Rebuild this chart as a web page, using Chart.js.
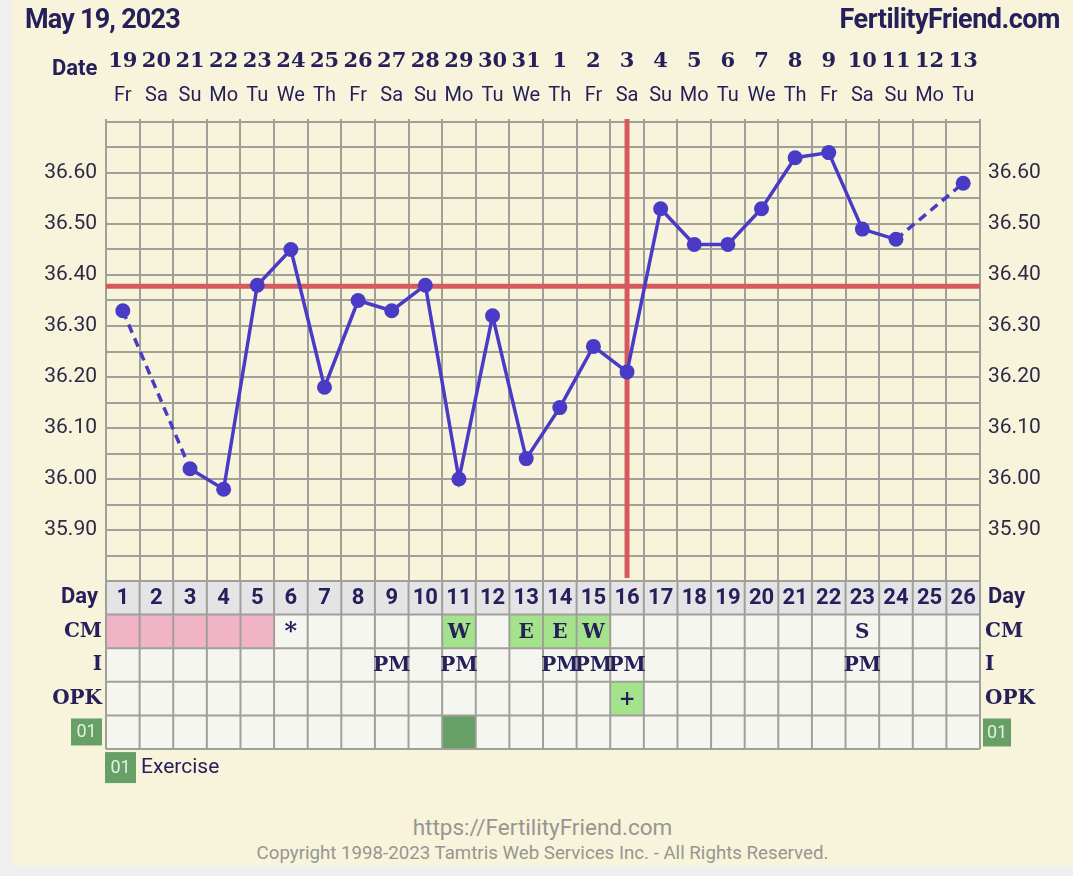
<!DOCTYPE html>
<html><head><meta charset="utf-8">
<script src="https://cdn.jsdelivr.net/npm/chart.js@4"></script>
<style>
html,body{margin:0;padding:0;background:#efefef;width:1073px;height:876px;overflow:hidden;}
#panel{position:absolute;left:12px;top:0;width:1061px;height:866px;background:#f8f4dc;}
#wrap{position:absolute;left:0;top:0;width:1073px;height:790px;}
.t{position:absolute;font-family:Roboto,sans-serif;color:#25205a;white-space:nowrap;}
</style></head><body>
<div id="panel"></div>
<div id="wrap"><canvas id="c" width="1073" height="790" style="width:1073px;height:790px"></canvas></div>
<div class="t" style="left:25px;top:3px;font-size:27px;font-weight:700;letter-spacing:-0.8px;line-height:32px">May 19, 2023</div>
<div class="t" style="right:13px;top:3px;font-size:27px;font-weight:700;letter-spacing:-0.5px;line-height:32px">FertilityFriend.com</div>
<div class="t" style="left:52px;top:55px;font-size:22px;font-weight:700;line-height:26px">Date</div>
<div class="t" style="left:12px;width:1061px;text-align:center;top:814px;font-size:22.5px;line-height:26px;color:#969690">https://FertilityFriend.com</div>
<div class="t" style="left:12px;width:1061px;text-align:center;top:842px;font-size:18.7px;line-height:22px;color:#969690">Copyright 1998-2023 Tamtris Web Services Inc. - All Rights Reserved.</div>
<script>
// ---- data ----
const dates = ['19','20','21','22','23','24','25','26','27','28','29','30','31','1','2','3','4','5','6','7','8','9','10','11','12','13'];
const weekdays = ['Fr','Sa','Su','Mo','Tu','We','Th','Fr','Sa','Su','Mo','Tu','We','Th','Fr','Sa','Su','Mo','Tu','We','Th','Fr','Sa','Su','Mo','Tu'];
const cycleDays = [1,2,3,4,5,6,7,8,9,10,11,12,13,14,15,16,17,18,19,20,21,22,23,24,25,26];
const temps = [36.33,null,36.02,35.98,36.38,36.45,36.18,36.35,36.33,36.38,36.00,36.32,36.04,36.14,36.26,36.21,36.53,36.46,36.46,36.53,36.63,36.64,36.49,36.47,null,36.58];
const coverline = 36.378;
const ovulationDay = 16;
const flow = [1,1,1,1,1,0,0,0,0,0,0,0,0,0,0,0,0,0,0,0,0,0,0,0,0,0];
const cervicalMucus = ['','','','','','*','','','','','W','','E','E','W','','','','','','','','S','','',''];
const intercourse = ['','','','','','','','','PM','','PM','','','PM','PM','PM','','','','','','','PM','','',''];
const opk = ['','','','','','','','','','','','','','','','+','','','','','','','','','',''];
const exercise = [0,0,0,0,0,0,0,0,0,0,1,0,0,0,0,0,0,0,0,0,0,0,0,0,0,0];
const rowLabels = ['Day','CM','I','OPK'];

// ---- styles ----
const NAVY = '#25205a', LINE = '#4a3bc6', RED = '#d65a5c', GRID = '#a09f99';
const SLAB = '"DejaVu Serif", serif';

const overlay = {
  id: 'overlay',
  beforeDatasetsDraw(chart) {
    const {ctx, chartArea: a, scales: {x, y}} = chart;
    ctx.save();
    ctx.strokeStyle = RED; ctx.lineWidth = 5;
    const yc = y.getPixelForValue(coverline);
    ctx.beginPath(); ctx.moveTo(a.left, yc); ctx.lineTo(a.right, yc); ctx.stroke();
    const xo = x.getPixelForValue(ovulationDay - 1);
    ctx.beginPath(); ctx.moveTo(xo, a.top - 3); ctx.lineTo(xo, a.bottom - 3); ctx.stroke();
    ctx.restore();
  },
  afterDraw(chart) {
    const {ctx, chartArea: a, scales: {x}} = chart;
    const n = cycleDays.length;
    const colW = (a.right - a.left) / n;
    const rh = colW;
    const top = a.bottom;
    ctx.save();
    // cells
    for (let i = 0; i < n; i++) {
      const x0 = x.getPixelForValue(i) - colW / 2;
      ctx.fillStyle = '#e4e3e5'; ctx.fillRect(x0, top, colW, rh);
      for (let r = 1; r < 5; r++) { ctx.fillStyle = '#f6f6f0'; ctx.fillRect(x0, top + r * rh, colW, rh); }
      if (flow[i]) { ctx.fillStyle = '#f1b3c6'; ctx.fillRect(x0, top + rh, colW, rh); }
      if (cervicalMucus[i] === 'W' || cervicalMucus[i] === 'E') { ctx.fillStyle = '#a4e28c'; ctx.fillRect(x0, top + rh, colW, rh); }
      if (opk[i] === '+') { ctx.fillStyle = '#a4e28c'; ctx.fillRect(x0, top + 3 * rh, colW, rh); }
      if (exercise[i]) { ctx.fillStyle = '#66a066'; ctx.fillRect(x0, top + 4 * rh, colW, rh); }
    }
    // grid
    ctx.strokeStyle = GRID; ctx.lineWidth = 2;
    for (let i = 0; i <= n; i++) {
      const xx = (i < n ? x.getPixelForValue(i) - colW / 2 : x.getPixelForValue(n - 1) + colW / 2);
      ctx.beginPath(); ctx.moveTo(xx, top); ctx.lineTo(xx, top + 5 * rh); ctx.stroke();
    }
    for (let r = 0; r <= 5; r++) {
      ctx.beginPath(); ctx.moveTo(a.left, top + r * rh); ctx.lineTo(a.right, top + r * rh); ctx.stroke();
    }
    // texts
    ctx.fillStyle = NAVY; ctx.textAlign = 'center'; ctx.textBaseline = 'middle';
    for (let i = 0; i < n; i++) {
      const cx = x.getPixelForValue(i);
      ctx.font = 'bold 22px Roboto'; ctx.fillText(String(cycleDays[i]), cx, top + rh * 0.5 + 1);
      if (cervicalMucus[i] === '*') {
        ctx.font = 'bold 24px ' + SLAB; ctx.fillText('*', cx, top + rh * 1.5 + 1);
      } else if (cervicalMucus[i]) {
        ctx.font = 'bold 20px ' + SLAB; ctx.fillText(cervicalMucus[i], cx, top + rh * 1.5 + 1);
      }
      ctx.font = 'bold 20px ' + SLAB;
      if (intercourse[i]) ctx.fillText(intercourse[i], cx, top + rh * 2.5 + 1);
      if (opk[i]) ctx.fillText(opk[i], cx, top + rh * 3.5 + 1);
    }
    // row labels
    rowLabels.forEach((lab, r) => {
      ctx.font = r === 0 ? 'bold 22px Roboto' : 'bold 20px ' + SLAB;
      ctx.textAlign = 'right';
      ctx.fillText(lab, a.left - (r === 0 ? 8 : 4), top + rh * (r + 0.5));
      ctx.textAlign = 'left';
      ctx.fillText(lab, a.right + (r === 0 ? 8 : 5), top + rh * (r + 0.5));
    });
    // exercise badges
    const badge = (bx, by, w, h) => {
      ctx.fillStyle = '#66a066'; ctx.fillRect(bx, by, w, h);
      ctx.fillStyle = '#e6efe2'; ctx.font = '18px Roboto'; ctx.textAlign = 'center';
      ctx.fillText('01', bx + w / 2, by + h / 2 + 1);
    };
    badge(a.left - 35, top + 4 * rh + 3, 31, 27);
    badge(a.right + 3, top + 4 * rh + 3, 28, 28);
    badge(a.left - 1, top + 5 * rh + 3, 31, 31);
    ctx.fillStyle = NAVY; ctx.font = '21px Roboto'; ctx.textAlign = 'left'; ctx.textBaseline = 'alphabetic';
    ctx.fillText('Exercise', a.left + 35, top + 5 * rh + 24);
    ctx.restore();
  }
};

const tickCb = v => {
  const k = Math.round(v * 100);
  return (k % 10 === 0 && k >= 3590 && k <= 3660) ? (k / 100).toFixed(2) : '';
};

new Chart(document.getElementById('c'), {
  type: 'line',
  data: {
    labels: dates,
    datasets: [{
      data: temps, xAxisID: 'x', yAxisID: 'y',
      borderColor: LINE, backgroundColor: LINE,
      pointBackgroundColor: LINE, pointBorderColor: LINE,
      pointRadius: 7.5, pointBorderWidth: 0, borderWidth: 3.5,
      tension: 0, spanGaps: true,
      segment: { borderDash: c => (c.p0.skip || c.p1.skip) ? [9, 6] : undefined }
    }]
  },
  options: {
    responsive: false, animation: false,
    layout: { padding: { top: 0, left: 0, right: 0, bottom: 209 } },
    plugins: { legend: { display: false }, tooltip: { enabled: false } },
    scales: {
      x: {
        type: 'category', position: 'top', weight: 1, offset: true,
        grid: { display: false, drawTicks: false }, border: { display: false },
        ticks: { font: { family: SLAB, weight: 'bold', size: 21 }, color: NAVY, padding: 6, autoSkip: false, maxRotation: 0, minRotation: 0 },
        afterFit: s => { s.height = 80; }
      },
      x2: {
        type: 'category', position: 'top', labels: weekdays, weight: 0, offset: true,
        grid: { display: true, offset: true, color: GRID, lineWidth: 2, drawTicks: true, tickLength: 3 },
        border: { display: false },
        ticks: { font: { family: 'Roboto', size: 20 }, color: NAVY, padding: 11, autoSkip: false, maxRotation: 0, minRotation: 0 },
        afterFit: s => { s.height = 42; }
      },
      y: {
        type: 'linear', position: 'left', min: 35.8, max: 36.7,
        ticks: { stepSize: 0.05, autoSkip: false, callback: tickCb, font: { family: 'Roboto', size: 21 }, color: '#2b2946', padding: 9 },
        grid: { color: GRID, lineWidth: 2, drawTicks: false }, border: { display: false },
        afterFit: s => { s.width = 106; }
      },
      y2: {
        type: 'linear', position: 'right', min: 35.8, max: 36.7,
        ticks: { stepSize: 0.05, autoSkip: false, callback: tickCb, font: { family: 'Roboto', size: 21 }, color: '#2b2946', padding: 8 },
        grid: { display: false, drawTicks: false }, border: { display: false },
        afterFit: s => { s.width = 93; }
      }
    }
  },
  plugins: [overlay]
});
</script>
</body></html>
